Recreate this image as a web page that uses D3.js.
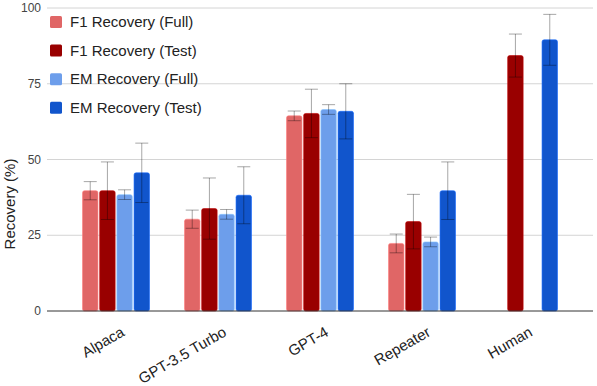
<!DOCTYPE html>
<html>
<head>
<meta charset="utf-8">
<script src="https://d3js.org/d3.v7.min.js"></script>
<style>
  body { margin: 0; background: #fff; }
  text { font-family: Arial, "Liberation Sans", sans-serif; }
</style>
</head>
<body>
<script>
// data
const models = ["Alpaca", "GPT-3.5 Turbo", "GPT-4", "Repeater", "Human"];
const seriesNames = ["F1 Recovery (Full)", "F1 Recovery (Test)", "EM Recovery (Full)", "EM Recovery (Test)"];
const seriesColors = ["#e06666", "#990000", "#6d9eeb", "#1155cc"];
const f1Full = [39.7, 30.3, 64.4, 22.3, null];
const f1Test = [39.7, 33.8, 65.2, 29.5, 84.3];
const emFull = [38.4, 31.9, 66.5, 22.8, null];
const emTest = [45.6, 38.2, 65.9, 39.7, 89.5];
const f1FullErr = [3.0, 3.0, 1.6, 3.1, null];
const f1TestErr = [9.5, 10.1, 8.0, 9.0, 7.1];
const emFullErr = [1.6, 1.6, 1.6, 1.6, null];
const emTestErr = [9.8, 9.4, 9.1, 9.5, 8.4];
const yTicks = [0, 25, 50, 75, 100];

const values = [f1Full, f1Test, emFull, emTest];
const errors = [f1FullErr, f1TestErr, emFullErr, emTestErr];

const width = 597, height = 386;
const svg = d3.select("body").append("svg")
  .attr("width", width).attr("height", height);

const y = d3.scaleLinear().domain([0, 100]).range([311, 8]);
const x0 = d3.scaleBand().domain(models).range([64.5, 574.5]);
const x1 = d3.scaleBand().domain(d3.range(4)).range([-33, 34]).paddingInner(0.1);

// gridlines
svg.append("g").selectAll("line")
  .data(yTicks.filter(d => d > 0))
  .join("line")
  .attr("x1", 47).attr("x2", 593)
  .attr("y1", d => y(d)).attr("y2", d => y(d))
  .attr("stroke", "#d4d4d4").attr("stroke-width", 1);

// y tick labels
svg.append("g").selectAll("text")
  .data(yTicks)
  .join("text")
  .attr("x", 41).attr("y", d => y(d))
  .attr("dy", "0.35em")
  .attr("text-anchor", "end")
  .attr("fill", "#444")
  .style("font-size", "12px")
  .text(d => d);

// y title
svg.append("text")
  .attr("transform", "translate(15,204) rotate(-90)")
  .attr("text-anchor", "middle")
  .attr("fill", "#222")
  .style("font-size", "15px")
  .text("Recovery (%)");

// bars
const groups = svg.append("g").selectAll("g")
  .data(models)
  .join("g")
  .attr("transform", d => "translate(" + (x0(d) + x0.bandwidth() / 2) + ",0)");

groups.each(function (m, mi) {
  const g = d3.select(this);
  values.forEach((vals, si) => {
    const v = vals[mi];
    if (v == null) return;
    g.append("rect")
      .attr("x", x1(si))
      .attr("y", y(v))
      .attr("width", x1.bandwidth())
      .attr("height", y(0) - y(v))
      .attr("rx", 2)
      .attr("fill", seriesColors[si])
      .attr("stroke", d3.color(seriesColors[si]).brighter(0.6))
      .attr("stroke-opacity", 0.6)
      .attr("stroke-width", 1);
  });
  values.forEach((vals, si) => {
    const v = vals[mi], e = errors[si][mi];
    if (v == null || e == null) return;
    const cx = x1(si) + x1.bandwidth() / 2;
    const eb = g.append("g")
      .attr("stroke", "#000").attr("stroke-opacity", 0.35).attr("stroke-width", 1);
    eb.append("line").attr("x1", cx).attr("x2", cx).attr("y1", y(v + e)).attr("y2", y(v - e));
    eb.append("line").attr("x1", cx - 6.5).attr("x2", cx + 6.5).attr("y1", y(v + e)).attr("y2", y(v + e));
    eb.append("line").attr("x1", cx - 6.5).attr("x2", cx + 6.5).attr("y1", y(v - e)).attr("y2", y(v - e));
  });
});

// baseline
svg.append("line")
  .attr("x1", 47).attr("x2", 593)
  .attr("y1", y(0)).attr("y2", y(0))
  .attr("stroke", "#333").attr("stroke-width", 1);

// x labels
svg.append("g").selectAll("text")
  .data(models)
  .join("text")
  .attr("transform", d => "translate(" + (x0(d) + x0.bandwidth() / 2 + 10) + ",335) rotate(-30)")
  .attr("text-anchor", "end")
  .attr("fill", "#222")
  .style("font-size", "15px")
  .text(d => d);

// legend
const legend = svg.append("g").selectAll("g")
  .data(seriesNames)
  .join("g")
  .attr("transform", (d, i) => "translate(50," + (22 + i * 28.6) + ")");
legend.append("rect")
  .attr("x", 0).attr("y", -6).attr("width", 12).attr("height", 12).attr("rx", 1.5)
  .attr("fill", (d, i) => seriesColors[i]);
legend.append("text")
  .attr("x", 20).attr("y", 0).attr("dy", "0.35em")
  .attr("fill", "#222")
  .style("font-size", "15px")
  .text(d => d);
</script>
</body>
</html>
